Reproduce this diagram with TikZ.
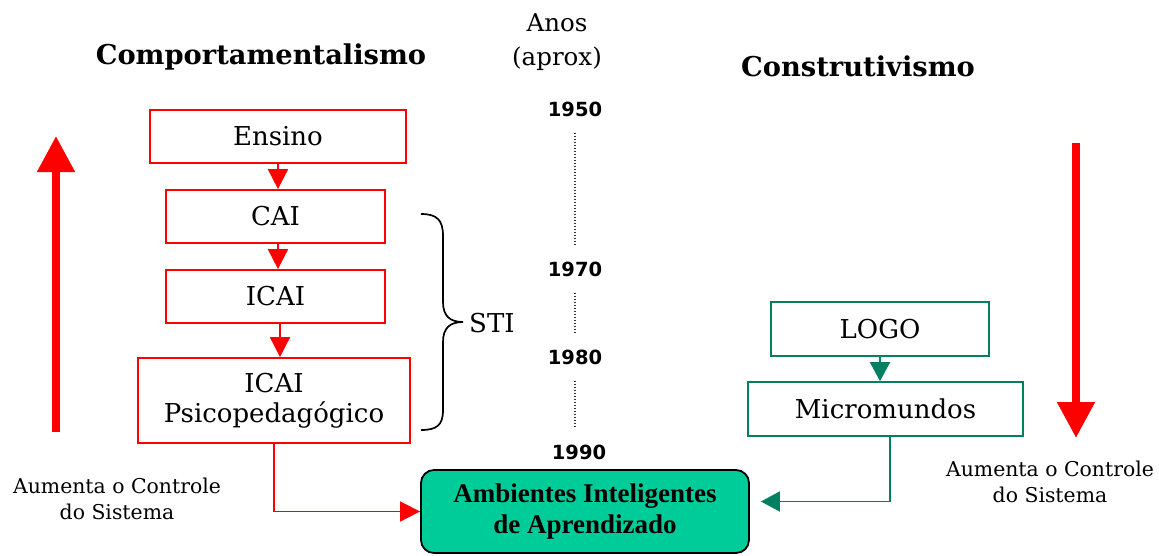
\documentclass[tikz,border=0pt]{standalone}
\usepackage{fontspec}
\setmainfont{DejaVu Serif}
\newfontfamily\yearfont{DejaVu Sans}
\newfontfamily\timesfont{Liberation Serif}
\usetikzlibrary{arrows.meta}
\definecolor{redc}{HTML}{FF0000}
\definecolor{greenc}{HTML}{008060}
\definecolor{fillc}{HTML}{00CC99}
\tikzset{
  redbox/.style={draw=redc, line width=1.7pt, inner sep=0pt, align=center, font=\fontsize{26}{30}\selectfont},
  greenbox/.style={draw=greenc, line width=1.7pt, inner sep=0pt, align=center, font=\fontsize{26}{30}\selectfont},
  redarrow/.style={draw=redc, line width=1.7pt, -{Triangle[width=20pt,length=20pt]}},
  greenarrow/.style={draw=greenc, line width=1.7pt, -{Triangle[width=20pt,length=19pt]}},
  bigarrow/.style={draw=redc, line width=8pt, -{Triangle[width=36pt,length=36pt]}},
  yearlbl/.style={font=\yearfont\bfseries\fontsize{19.5}{22}\selectfont, inner sep=0pt},
  timeline/.style={draw=black!80, line width=1.3pt, dash pattern=on 1.3pt off 1.7pt, shorten <=16pt, shorten >=16pt},
  titlelbl/.style={font=\bfseries\fontsize{27.3}{32}\selectfont, inner sep=0pt},
  sidelbl/.style={font=\fontsize{20.4}{26}\selectfont, align=center, inner sep=0pt},
}
\begin{document}
\begin{tikzpicture}[x=1pt,y=-1pt]
\useasboundingbox (0,0) rectangle (1159,555);

% titles
\node[titlelbl] (tleft) at (261,57) {Comportamentalismo};
\node[titlelbl] (tright) at (858,66) {Construtivismo};
\node[font=\fontsize{24.5}{34}\selectfont, align=center, inner sep=0pt] (anos) at (557,42) {Anos\\(aprox)};

% years
\node[yearlbl] (y1950) at (575,109) {1950};
\node[yearlbl] (y1970) at (575,269) {1970};
\node[yearlbl] (y1980) at (575,357) {1980};
\node[yearlbl] (y1990) at (579,452) {1990};
\draw[timeline] (y1950.south) -- (y1970.north);
\draw[timeline] (y1970.south) -- (y1980.north);
\draw[timeline] (y1980.south) -- (y1980.south |- y1990.north);

% left boxes
\node[redbox, minimum width=256pt, minimum height=53pt] (ensino) at (278,136.5) {Ensino};
\node[redbox, minimum width=219pt, minimum height=53pt] (cai) at (275.5,216.5) {CAI};
\node[redbox, minimum width=219pt, minimum height=53pt] (icai) at (275.5,296.5) {ICAI};
\node[redbox, minimum width=272pt, minimum height=85pt] (psico) at (274,400.5) {ICAI\\Psicopedagógico};

\draw[redarrow] (ensino.south) -- (ensino.south |- cai.north);
\draw[redarrow] ([xshift=2.5pt]cai.south) -- ([xshift=2.5pt]cai.south |- icai.north);
\draw[redarrow] ([xshift=4.5pt]icai.south) -- ([xshift=4.5pt]icai.south |- psico.north);

% brace
\draw[line width=1.7pt, black] (421,214) .. controls (437,214) and (443,220) .. (443,236) -- (443,302)
  .. controls (443,316) and (450,322) .. (463,322)
  .. controls (450,322) and (443,328) .. (443,342) -- (443,410)
  .. controls (443,425) and (437,430) .. (421,430);
\node[font=\fontsize{26}{30}\selectfont, inner sep=0pt, anchor=west] (sti) at (469,323) {STI};

% target box
\node[draw=black, line width=1.8pt, fill=fillc, rounded corners=13pt, minimum width=328pt, minimum height=83pt,
      inner sep=0pt, align=center, font=\timesfont\bfseries\fontsize{27}{31}\selectfont] (amb) at (585,511.5)
      {Ambientes Inteligentes\\de Aprendizado};

\draw[redarrow] (psico.south) |- (amb.west);

% right boxes
\node[greenbox, minimum width=218pt, minimum height=54pt] (logo) at (880,329) {LOGO};
\node[greenbox, minimum width=275pt, minimum height=54pt] (micro) at (885.5,409) {Micromundos};
\draw[greenarrow] (logo.south) -- (logo.south |- micro.north);
\coordinate (gend) at ([xshift=11pt,yshift=10pt]amb.east);
\draw[greenarrow] ([xshift=4.5pt]micro.south) |- (gend);

% big arrows
\coordinate (lbot) at (56,432);
\coordinate (ltop) at (56,136);
\draw[bigarrow] (lbot) -- (ltop);
\coordinate (rtop) at (1076,143);
\coordinate (rbot) at (1076,438);
\draw[bigarrow] (rtop) -- (rbot);

% side labels
\node[sidelbl] (lcontrol) at (117,499) {Aumenta o Controle\\do Sistema};
\node[sidelbl] (rcontrol) at (1050,482) {Aumenta o Controle\\do Sistema};
\end{tikzpicture}
\end{document}
